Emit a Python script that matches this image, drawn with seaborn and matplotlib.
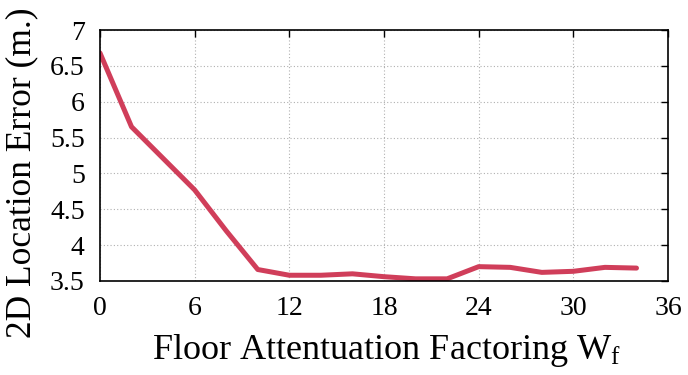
import matplotlib
matplotlib.use("Agg")
import matplotlib.pyplot as plt
import seaborn as sns
import pandas as pd
from matplotlib.ticker import FuncFormatter

wf = [0, 2, 4, 6, 8, 10, 12, 14, 16, 18, 20, 22, 24, 26, 28, 30, 32, 34]
error = [6.68, 5.65, 5.21, 4.77, 4.20, 3.66, 3.58, 3.58, 3.60, 3.56, 3.53, 3.53,
         3.70, 3.69, 3.62, 3.635, 3.69, 3.68]
x_ticks = [0, 6, 12, 18, 24, 30, 36]
y_ticks = [3.5, 4, 4.5, 5, 5.5, 6, 6.5, 7]

sns.set_style("white")
plt.rcParams['font.family'] = ['Liberation Serif', 'DejaVu Serif']
plt.rcParams['mathtext.fontset'] = 'custom'
plt.rcParams['mathtext.rm'] = 'Liberation Serif'
plt.rcParams['mathtext.it'] = 'Liberation Serif:italic'
plt.rcParams['text.color'] = 'black'
plt.rcParams['axes.labelcolor'] = 'black'

df = pd.DataFrame({"wf": wf, "err": error})

fig = plt.figure(figsize=(6.88, 3.75), dpi=100)
ax = fig.add_axes([0.1453, 0.2507, 0.971 - 0.1453, 0.92 - 0.2507])
sns.lineplot(data=df, x="wf", y="err", ax=ax, color="#d03e5a", linewidth=3.6)

ax.set_xlim(0, 36)
ax.set_ylim(3.5, 7)
ax.set_xticks(x_ticks)
ax.set_yticks(y_ticks)
ax.yaxis.set_major_formatter(FuncFormatter(lambda v, p: f"{v:g}"))
ax.grid(True, linestyle=(0, (1, 2)), color="#b0b0b0", linewidth=0.8)
ax.tick_params(axis="both", direction="in", length=5, width=1, top=True, right=True,
               labelsize=20, colors="black")
ax.tick_params(axis="x", pad=11)
ax.tick_params(axis="y", pad=11)
for s in ax.spines.values():
    s.set_visible(True)
    s.set_color("black")
    s.set_linewidth(1.2)

ax.set_xlabel("Floor Attentuation Factoring W$_{\\mathrm{f}}$", fontsize=26)
ax.set_ylabel("2D Location Error (m.)", fontsize=25.5)
ax.xaxis.label.set_va("baseline")
ax.xaxis.set_label_coords(0.504, -0.311)
ax.yaxis.set_label_coords(-0.108, 0.43)

fig.savefig("out.png", dpi=100)
